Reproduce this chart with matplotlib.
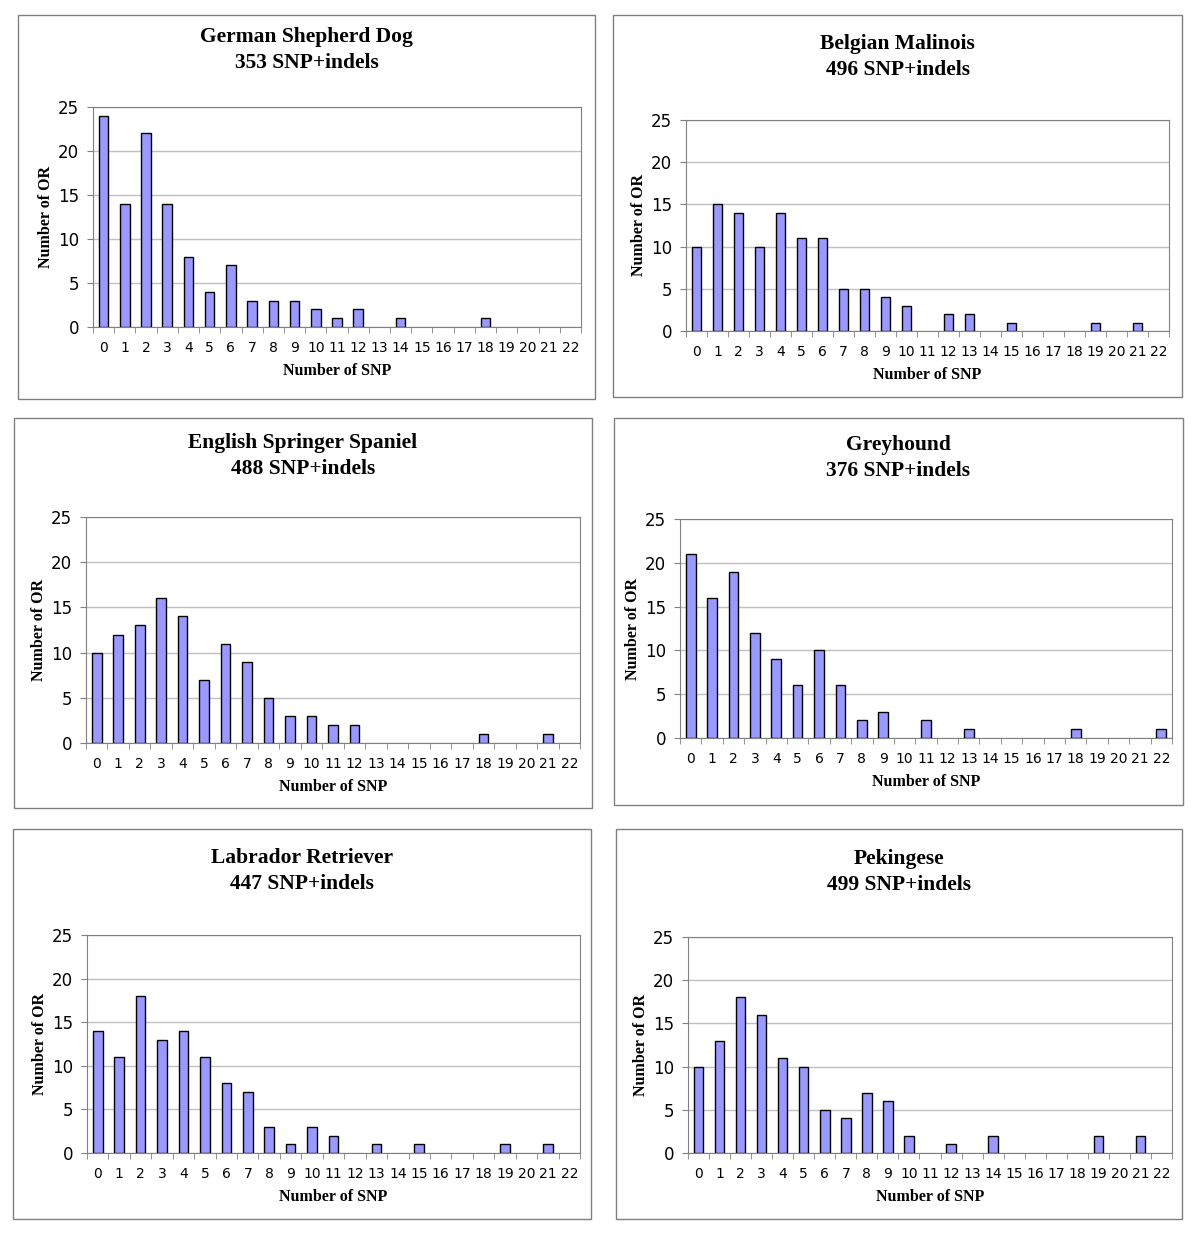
import matplotlib
matplotlib.use("Agg")
import matplotlib.pyplot as plt
from matplotlib.patches import Rectangle
import numpy as np

W, H = 1200, 1237

categories = list(range(23))
tick_labels = [str(c) for c in categories]

breeds = ["German Shepherd Dog", "Belgian Malinois", "English Springer Spaniel",
          "Greyhound", "Labrador Retriever", "Pekingese"]
snp_counts = ["353 SNP+indels", "496 SNP+indels", "488 SNP+indels",
              "376 SNP+indels", "447 SNP+indels", "499 SNP+indels"]

gsd = [24, 14, 22, 14, 8, 4, 7, 3, 3, 3, 2, 1, 2, 0, 1, 0, 0, 0, 1, 0, 0, 0, 0]
bm = [10, 15, 14, 10, 14, 11, 11, 5, 5, 4, 3, 0, 2, 2, 0, 1, 0, 0, 0, 1, 0, 1, 0]
ess = [10, 12, 13, 16, 14, 7, 11, 9, 5, 3, 3, 2, 2, 0, 0, 0, 0, 0, 1, 0, 0, 1, 0]
gh = [21, 16, 19, 12, 9, 6, 10, 6, 2, 3, 0, 2, 0, 1, 0, 0, 0, 0, 1, 0, 0, 0, 1]
lr = [14, 11, 18, 13, 14, 11, 8, 7, 3, 1, 3, 2, 0, 1, 0, 1, 0, 0, 0, 1, 0, 1, 0]
pk = [10, 13, 18, 16, 11, 10, 5, 4, 7, 6, 2, 0, 1, 0, 2, 0, 0, 0, 0, 2, 0, 2, 0]
series = [gsd, bm, ess, gh, lr, pk]

# layout in pixels: (box x0, y0, x1, y1), (axes x0, y0, x1, y1), title y
boxes = [(18, 15, 595, 399), (613, 15, 1182, 397),
         (14, 418, 592, 808), (614, 418, 1183, 805),
         (13, 829, 591, 1219), (616, 829, 1182, 1219)]
axes_px = [(93, 107, 581, 327), (686, 120, 1169, 331),
           (86, 517, 580, 743), (680, 519, 1172, 738),
           (87, 935, 580, 1153), (688, 937, 1172, 1153)]
title_y = [50, 57, 456, 458, 871, 872]

fig = plt.figure(figsize=(W / 100, H / 100), dpi=100)
fig.patch.set_facecolor("white")

serif = "Liberation Serif"

for i in range(6):
    bx0, by0, bx1, by1 = boxes[i]
    fig.patches.append(Rectangle((bx0 / W, 1 - by1 / H), (bx1 - bx0) / W, (by1 - by0) / H,
                                 transform=fig.transFigure, fill=False,
                                 edgecolor="#808080", linewidth=1.0))
    ax0, ay0, ax1, ay1 = axes_px[i]
    ax = fig.add_axes([ax0 / W, 1 - ay1 / H, (ax1 - ax0) / W, (ay1 - ay0) / H])
    vals = series[i]
    edges = ["black" if v > 0 else "none" for v in vals]
    ax.bar(categories, vals, width=0.45, color="#9999FF",
           edgecolor=edges, linewidth=1.0, zorder=3)
    ax.set_xlim(-0.5, 22.5)
    ax.set_ylim(0, 25)
    ax.set_yticks([0, 5, 10, 15, 20, 25])
    ax.yaxis.grid(True, color="#c0c0c0", linewidth=1.0, zorder=0)
    ax.set_xticks(categories)
    ax.set_xticklabels(tick_labels, fontsize=10)
    ax.set_xticks(np.arange(-0.5, 23.0, 1.0), minor=True)
    ax.tick_params(axis="x", which="major", length=0, pad=10)
    ax.tick_params(axis="x", which="minor", length=4, color="#808080")
    ax.tick_params(axis="y", which="major", length=4, color="#808080",
                   labelsize=12, pad=6)
    for s in ax.spines.values():
        s.set_color("#808080")
    ax.spines["bottom"].set_zorder(4)
    ax.set_xlabel("Number of SNP", fontfamily=serif, fontweight="bold",
                  fontsize=11.5, labelpad=6)
    ax.set_ylabel("Number of OR", fontfamily=serif, fontweight="bold",
                  fontsize=11.5, labelpad=3)
    cx = (bx0 + bx1) / 2 / W
    fig.text(cx, 1 - (title_y[i] - 13) / H, breeds[i], ha="center", va="center",
             fontfamily=serif, fontweight="bold", fontsize=15.5)
    fig.text(cx, 1 - (title_y[i] + 13) / H, snp_counts[i], ha="center", va="center",
             fontfamily=serif, fontweight="bold", fontsize=15.5)

fig.savefig("out.png", dpi=100, facecolor="white")
